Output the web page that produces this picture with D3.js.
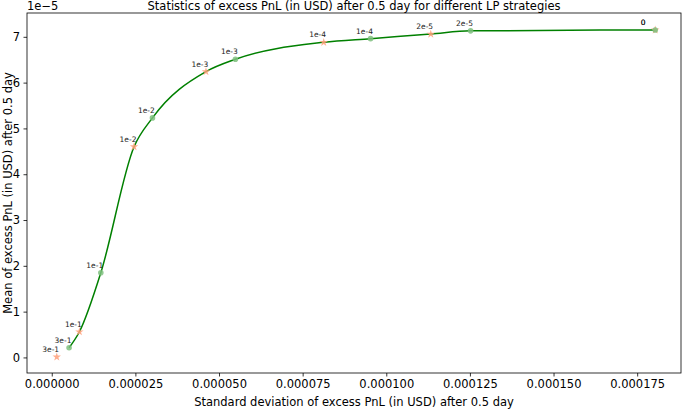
<!DOCTYPE html>
<html><head><meta charset="utf-8">
<script src="https://cdn.jsdelivr.net/npm/d3@7"></script>
<style>body{margin:0;background:#fff}svg{display:block;font-family:"DejaVu Sans",sans-serif}</style>
</head><body><svg id="c" width="685" height="410"></svg>
<script>
// Data (x: std dev, y: mean, in USD)
const greenLabels = ["3e-1","1e-1","1e-2","1e-3","1e-4","2e-5","0"];
const greenX = [5.18e-6, 14.67e-6, 30.1e-6, 54.9e-6, 95.3e-6, 125.2e-6, 180.4e-6];
const greenY = [0.21e-5, 1.85e-5, 5.23e-5, 6.51e-5, 6.96e-5, 7.13e-5, 7.15e-5];
const orangeLabels = ["3e-1","1e-1","1e-2","1e-3","1e-4","2e-5","0"];
const orangeX = [1.5e-6, 8.27e-6, 24.6e-6, 46.1e-6, 81.3e-6, 113.3e-6, 180.4e-6];
const orangeY = [0.01e-5, 0.56e-5, 4.6e-5, 6.24e-5, 6.88e-5, 7.06e-5, 7.15e-5];
const xTicks = [0, 25e-6, 50e-6, 75e-6, 100e-6, 125e-6, 150e-6, 175e-6];
const yTicks = [0,1,2,3,4,5,6,7].map(v => v*1e-5);

const svg = d3.select("#c");
const L=27, R=681, T=13, B=373;
const x = d3.scaleLinear().domain([-7.4e-6, 188.1e-6]).range([L, R]);
const y = d3.scaleLinear().domain([-0.34e-5, 7.52e-5]).range([B, T]);
const fs = 11.5;

// smooth curve through the strategy points (lowest orange point excluded)
const pts = greenX.map((v,i)=>({x:v,y:greenY[i]}))
  .concat(orangeX.slice(1,6).map((v,i)=>({x:v,y:orangeY[i+1]})))
  .sort((a,b)=>a.x-b.x);
svg.append("path").attr("d", d3.line().x(d=>x(d.x)).y(d=>y(d.y)).curve(d3.curveMonotoneX)(pts))
  .attr("fill","none").attr("stroke","#008000").attr("stroke-width",1.5);

// orange stars
const star = d3.symbol().type(d3.symbolStar).size(22);
orangeX.forEach((v,i)=>{
  svg.append("path").attr("d", star()).attr("transform",`translate(${x(v)},${y(orangeY[i])})`)
    .attr("fill","#ffa07a").attr("opacity",0.85);
});
// green circles
greenX.forEach((v,i)=>{
  svg.append("circle").attr("cx",x(v)).attr("cy",y(greenY[i])).attr("r",2.8)
    .attr("fill","#7fbf7f").attr("opacity",0.85);
});
// labels
function lab(xs, ys, ls){
  xs.forEach((v,i)=>{
    svg.append("text").attr("x",x(v)-14.5).attr("y",y(ys[i])-5)
      .attr("font-size",7.5).attr("fill","#222").text(ls[i]);
  });
}
lab(orangeX, orangeY, orangeLabels);
lab(greenX, greenY, greenLabels);

// axes
const xa = svg.append("g").attr("transform",`translate(0,${B})`)
  .call(d3.axisBottom(x).tickValues(xTicks).tickFormat(d=>d.toFixed(6)).tickSizeOuter(0).tickSize(3.5).tickPadding(3.5));
const ya = svg.append("g").attr("transform",`translate(${L},0)`)
  .call(d3.axisLeft(y).tickValues(yTicks).tickFormat(d=>Math.round(d*1e5)).tickSizeOuter(0).tickSize(3.5).tickPadding(3.5));
[xa,ya].forEach(g=>{g.select(".domain").remove();
  g.selectAll("text").attr("font-size",fs).attr("fill","#000").attr("font-family","DejaVu Sans");
  g.selectAll("line").attr("stroke","#000").attr("stroke-width",0.8);});
svg.append("rect").attr("x",L).attr("y",T).attr("width",R-L).attr("height",B-T)
  .attr("fill","none").attr("stroke","#000").attr("stroke-width",0.8);

svg.append("text").attr("x",L).attr("y",10).attr("font-size",fs).text("1e\u22125");
svg.append("text").attr("x",(L+R)/2).attr("y",10).attr("text-anchor","middle").attr("font-size",fs)
  .text("Statistics of excess PnL (in USD) after 0.5 day for different LP strategies");
svg.append("text").attr("x",(L+R)/2).attr("y",406).attr("text-anchor","middle").attr("font-size",fs)
  .text("Standard deviation of excess PnL (in USD) after 0.5 day");
svg.append("text").attr("transform",`translate(12,${(T+B)/2}) rotate(-90)`).attr("text-anchor","middle").attr("font-size",fs)
  .text("Mean of excess PnL (in USD) after 0.5 day");
</script></body></html>
